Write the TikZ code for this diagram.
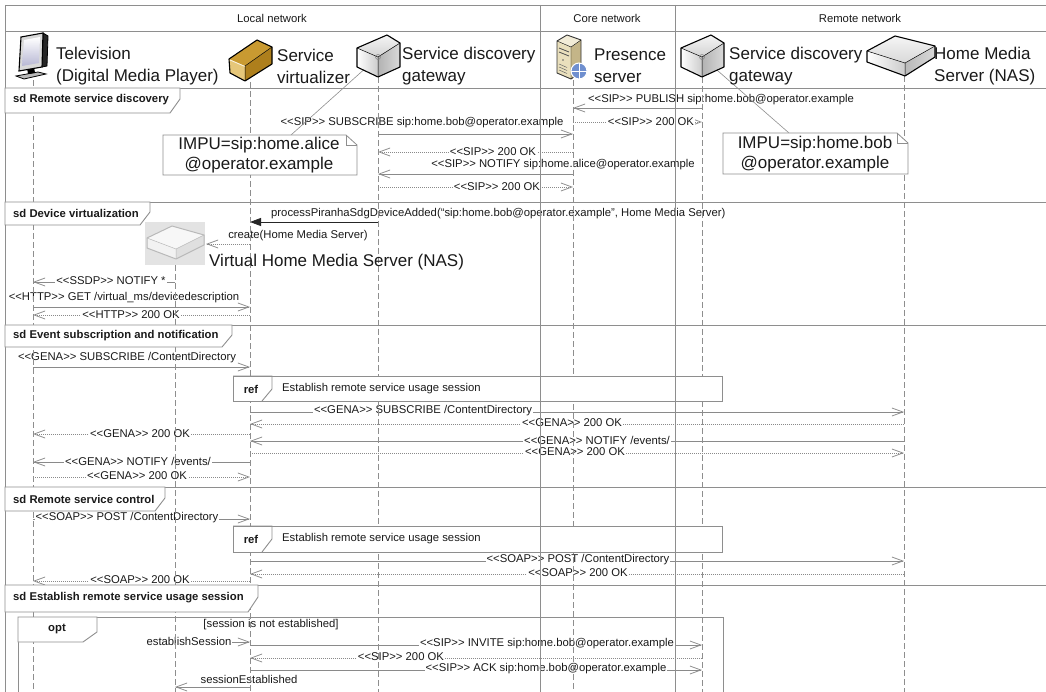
\documentclass[tikz,border=0pt]{standalone}
\usepackage{fontspec}
\setmainfont{Liberation Sans}[Ligatures=TeXOff]
\usetikzlibrary{arrows.meta}
\definecolor{gridc}{HTML}{8E8E8E}
\definecolor{msgc}{HTML}{8A8A8A}
\definecolor{ink}{HTML}{1A1A1A}
\definecolor{goldtop}{HTML}{C99A31}
\definecolor{goldleft}{HTML}{E6C77A}
\definecolor{goldright}{HTML}{AE7F1C}
\definecolor{beige}{HTML}{E9DFBC}
\definecolor{beigedark}{HTML}{C4B588}
\definecolor{globe}{HTML}{6F8FCF}
\newcommand\smallf{\fontsize{11.3}{13}\selectfont}
\newcommand\bigf{\fontsize{17}{22}\selectfont}
\newcommand\notefont{\fontsize{17}{20}\selectfont}

% grey gateway box, front edge at x=378
\newcommand\gatewayicon{%
  \shade[left color=white, right color=gray!40] (357,48) -- (378,57) -- (378,77) -- (357,67) -- cycle;
  \shade[left color=gray!60, right color=gray!30] (378,57) -- (400,43) -- (400,67) -- (378,77) -- cycle;
  \shade[top color=gray!8, bottom color=gray!35] (357,48) -- (387,35) -- (400,43) -- (378,57) -- cycle;
  \draw[outl] (357,48) -- (387,35) -- (400,43) -- (400,67) -- (378,77) -- (357,67) -- cycle;
  \draw[line width=0.5pt] (357,48) -- (378,57) -- (400,43) (378,57) -- (378,77);
  \draw[line width=0.5pt, gray] (378,57) circle (2.5);
}

\begin{document}
\begin{tikzpicture}[x=1pt,y=-1pt,
  gridl/.style={draw=gridc, line width=0.9pt},
  life/.style={draw=gridc, line width=0.8pt, dash pattern=on 6pt off 3pt},
  msg/.style={draw=msgc, line width=0.75pt, -{Straight Barb[length=11pt,width=8pt]}},
  rep/.style={msg, dash pattern=on 1pt off 1pt},
  sync/.style={draw=black!85, line width=0.8pt, -{Triangle[length=11pt,width=8pt]}},
  onl/.style={font=\smallf, text=ink, fill=white, inner xsep=1pt, inner ysep=0.5pt},
  abv/.style={font=\smallf, text=ink, inner sep=0pt},
  bigt/.style={font=\bigf, text=ink, inner sep=0pt, align=left},
  tabst/.style={draw=gridc, fill=white, line width=0.9pt},
  boldt/.style={font=\smallf\bfseries, text=ink, inner sep=0pt},
  outl/.style={draw=black, line width=1.1pt, line join=round},
  notest/.style={draw=gridc, fill=white, line width=0.8pt},
]
\useasboundingbox (0,0) rectangle (1046,692);
\fill[white] (0,0) rectangle (1046,692);

% lifeline positions
\coordinate (tv) at (33,0);
\coordinate (vh) at (175,0);
\coordinate (sv) at (250,0);
\coordinate (sdg) at (378,0);
\coordinate (ps) at (573,0);
\coordinate (rsdg) at (702,0);
\coordinate (hms) at (904,0);
\coordinate (vhr) at (206,244);

% ---------- messages ----------
% remote service discovery
\draw[msg] (rsdg |- 0,108) -- (ps |- 0,108);
\draw[rep] (ps |- 0,122) -- (rsdg |- 0,122);
\draw[msg] (sdg |- 0,134) -- (ps |- 0,134);
\draw[rep] (ps |- 0,152) -- (sdg |- 0,152);
\draw[msg] (ps |- 0,174) -- (sdg |- 0,174);
\draw[rep] (sdg |- 0,187) -- (ps |- 0,187);
% device virtualization
\draw[sync] (sdg |- 0,222) -- (sv |- 0,222);
\draw[rep] (sv |- 0,244) -- (vhr);
\draw[msg] (vh |- 0,282) -- (tv |- 0,282);
\draw[msg] (tv |- 0,307) -- (sv |- 0,307);
\draw[rep] (sv |- 0,315) -- (tv |- 0,315);
% event subscription and notification
\draw[msg] (tv |- 0,367) -- (sv |- 0,367);
\draw[msg] (sv |- 0,412) -- (hms |- 0,412);
\draw[rep] (hms |- 0,424) -- (sv |- 0,424);
\draw[rep] (sv |- 0,434) -- (tv |- 0,434);
\draw[msg] (hms |- 0,441) -- (sv |- 0,441);
\draw[rep] (sv |- 0,453) -- (hms |- 0,453);
\draw[msg] (sv |- 0,462) -- (tv |- 0,462);
\draw[rep] (tv |- 0,477) -- (sv |- 0,477);
% remote service control
\draw[msg] (tv |- 0,519) -- (sv |- 0,519);
\draw[msg] (sv |- 0,561) -- (hms |- 0,561);
\draw[rep] (hms |- 0,574) -- (sv |- 0,574);
\draw[rep] (sv |- 0,581) -- (tv |- 0,581);
% establish remote service usage session
\draw[msg] (vh |- 0,642) -- (sv |- 0,642);
\draw[msg] (sv |- 0,645) -- (rsdg |- 0,645);
\draw[rep] (rsdg |- 0,658) -- (sv |- 0,658);
\draw[msg] (sv |- 0,670) -- (rsdg |- 0,670);
\draw[msg] (sv |- 0,687) -- (vh |- 0,687);

% ---------- message labels ----------
\node[abv] (l1) at (721,100) {<<SIP>> PUBLISH sip:home.bob@operator.example};
\node[onl] (l2) at (651,122) {<<SIP>> 200 OK};
\node[abv] (l3) at (422,123) {<<SIP>> SUBSCRIBE sip:home.bob@operator.example};
\node[onl] (l4) at (493,152) {<<SIP>> 200 OK};
\node[abv] (l5) at (563,165) {<<SIP>> NOTIFY sip:home.alice@operator.example};
\node[onl] (l6) at (497,187) {<<SIP>> 200 OK};
\node[abv, anchor=west] (l7) at (271,214) {processPiranhaSdgDeviceAdded(“sip:home.bob@operator.example”, Home Media Server)};
\node[abv] (l8) at (298,236) {create(Home Media Server)};
\node[onl] (l9) at (111,281) {<<SSDP>> NOTIFY *};
\node[abv] (l10) at (124,298) {<<HTTP>> GET /virtual\_ms/devicedescription};
\node[onl] (l11) at (131,315) {<<HTTP>> 200 OK};
\node[abv] (l12) at (127,358) {<<GENA>> SUBSCRIBE /ContentDirectory};
\node[onl] (l13) at (423,411) {<<GENA>> SUBSCRIBE /ContentDirectory};
\node[onl] (l14) at (572,423) {<<GENA>> 200 OK};
\node[onl] (l15) at (140,434) {<<GENA>> 200 OK};
\node[onl] (l16) at (597,440) {<<GENA>> NOTIFY /events/};
\node[onl] (l17) at (575,452) {<<GENA>> 200 OK};
\node[onl] (l18) at (138,461) {<<GENA>> NOTIFY /events/};
\node[onl] (l19) at (137,476) {<<GENA>> 200 OK};
\node[onl] (l20) at (127,518) {<<SOAP>> POST /ContentDirectory};
\node[onl] (l21) at (578,560) {<<SOAP>> POST /ContentDirectory};
\node[onl] (l22) at (578,573) {<<SOAP>> 200 OK};
\node[onl] (l23) at (140,580) {<<SOAP>> 200 OK};
\node[abv] (l24) at (271,625) {[session is not established]};
\node[onl] (l25) at (189,641) {establishSession};
\node[onl] (l26) at (547,644) {<<SIP>> INVITE sip:home.bob@operator.example};
\node[onl] (l27) at (401,657) {<<SIP>> 200 OK};
\node[onl] (l28) at (546,669) {<<SIP>> ACK sip:home.bob@operator.example};
\node[abv] (l29) at (249,679) {sessionEstablished};

% ---------- grid and lifelines ----------
\foreach \yy in {5,31,88,202,325,487,585} \draw[gridl] (5,\yy) -- (1046,\yy);
\draw[gridl] (5,5) -- (5,692);
\draw[life] (tv |- 0,80) -- (tv |- 0,692);
\draw[life] (vh |- 0,265) -- (vh |- 0,692);
\draw[life] (sv |- 0,82) -- (sv |- 0,692);
\draw[life] (sdg |- 0,77) -- (sdg |- 0,692);
\draw[life] (ps |- 0,80) -- (ps |- 0,692);
\draw[life] (rsdg |- 0,77) -- (rsdg |- 0,692);
\draw[life] (hms |- 0,76) -- (hms |- 0,692);

\node[abv] (netl) at (272,18) {Local network};
\node[abv] (netc) at (607,18) {Core network};
\node[abv] (netr) at (860,18) {Remote network};

% ---------- notes ----------
\coordinate (anchA) at (378,57);
\coordinate (anchB) at (702,57);
\coordinate (noteAt) at (291,135);
\coordinate (noteBt) at (789,133);
\draw[draw=gridc, line width=0.6pt] (anchA) -- (noteAt);
\draw[draw=gridc, line width=0.6pt] (anchB) -- (noteBt);
\filldraw[notest] (163,135) -- (346,135) -- (357,145) -- (357,175) -- (163,175) -- cycle;
\draw[notest, fill=none] (346,135) -- (346,145) -- (357,145);
\node[font=\notefont, text=ink, align=center, inner sep=0pt] (noteA) at (259,155) {IMPU=sip:home.alice\\@operator.example};
\filldraw[notest] (723,133) -- (897,133) -- (908,143) -- (908,174) -- (723,174) -- cycle;
\draw[notest, fill=none] (897,133) -- (897,143) -- (908,143);
\node[font=\notefont, text=ink, align=center, inner sep=0pt] (noteB) at (815,154) {IMPU=sip:home.bob\\@operator.example};

% ---------- frame tabs ----------
\filldraw[tabst] (5,88) -- (180,88) -- (180,99) -- (170,113) -- (5,113) -- cycle;
\node[boldt, anchor=west] (sd1) at (13,100) {sd Remote service discovery};
\filldraw[tabst] (5,202) -- (150,202) -- (150,212) -- (140,225) -- (5,225) -- cycle;
\node[boldt, anchor=west] (sd2) at (13,213) {sd Device virtualization};
\filldraw[tabst] (5,325) -- (232,325) -- (232,335) -- (222,347) -- (5,347) -- cycle;
\node[boldt, anchor=west] (sd3) at (13,336) {sd Event subscription and notification};
\filldraw[tabst] (5,487) -- (165,487) -- (165,498) -- (155,511) -- (5,511) -- cycle;
\node[boldt, anchor=west] (sd4) at (13,499) {sd Remote service control};
\filldraw[tabst] (5,585) -- (258,585) -- (258,597) -- (248,612) -- (5,612) -- cycle;
\node[boldt, anchor=west] (sd5) at (13,598) {sd Establish remote service usage session};

% ---------- interaction uses ----------
\filldraw[tabst] (233,376) rectangle (722,401);
\draw[tabst, fill=none] (233,376) -- (272,376) -- (272,389) -- (262,401);
\node[boldt] (ref1) at (251,389) {ref};
\node[abv, anchor=west] (ref1t) at (282,389) {Establish remote service usage session};
\filldraw[tabst] (233,526) rectangle (722,552);
\draw[tabst, fill=none] (233,526) -- (272,526) -- (272,539) -- (262,552);
\node[boldt] (ref2) at (251,539) {ref};
\node[abv, anchor=west] (ref2t) at (282,539) {Establish remote service usage session};

% ---------- opt fragment ----------
\draw[gridl] (18,700) -- (18,617) -- (723,617) -- (723,700);
\filldraw[tabst] (18,617) -- (97,617) -- (97,632) -- (83,642) -- (18,642) -- cycle;
\node[boldt] (opt) at (57,629) {opt};

% network separators
\draw[gridl] (540,5) -- (540,692);
\draw[gridl] (675,5) -- (675,692);

% ---------- virtual home media server ----------
\fill[gray!22] (145,222) rectangle (205,265);
\fill[gray!10] (147,238) -- (176,249) -- (176,259) -- (147,248) -- cycle;
\fill[gray!25] (176,249) -- (204,235) -- (204,245) -- (176,259) -- cycle;
\fill[gray!6] (147,238) -- (172,226) -- (204,235) -- (176,249) -- cycle;
\draw[gray!55, line width=1pt, line join=round] (147,238) -- (172,226) -- (204,235) -- (204,245) -- (176,259) -- (147,248) -- cycle;
\draw[gray!55, line width=0.5pt] (147,238) -- (176,249) -- (204,235) (176,249) -- (176,259);
\node[font=\bigf, text=ink, inner sep=0pt, anchor=west] (vht) at (209,262) {Virtual Home Media Server (NAS)};

% ---------- participants ----------
% television
\filldraw[fill=gray!55, draw=black, line width=0.8pt] (16,76) -- (38,72) -- (46,74) -- (24,79) -- cycle;
\fill[black] (27,68) -- (34,67) -- (35,73) -- (28,74) -- cycle;
\filldraw[fill=black!85, draw=black, line width=0.8pt] (43,33) -- (48,36) -- (47,66) -- (42,67) -- cycle;
\filldraw[fill=gray!30, draw=black, line width=1.1pt] (21,37) -- (43,33) -- (42,67) -- (19,71) -- cycle;
\shade[top color=white, bottom color=blue!25!gray!45] (24,40) -- (40,37) -- (39,63) -- (22,66) -- cycle;
\node[bigt, anchor=west] (tvt) at (56,66) {Television\\(Digital Media Player)};

% service virtualizer
\fill[goldleft] (229,59) -- (245,66) -- (245,81) -- (230,73) -- cycle;
\fill[goldright] (245,66) -- (272,47) -- (272,64) -- (245,81) -- cycle;
\fill[goldtop] (229,59) -- (257,40) -- (272,47) -- (245,66) -- cycle;
\draw[outl] (229,59) -- (257,40) -- (272,47) -- (272,64) -- (245,81) -- (230,73) -- cycle;
\draw[line width=0.8pt, draw=white!80!goldleft] (230,60) -- (245,66.5);
\draw[line width=0.5pt] (245,66) -- (272,47) (245,66) -- (245,81);
\node[bigt, anchor=west] (svt) at (277,66) {Service\\virtualizer};

% service discovery gateways
\gatewayicon
\node[bigt, anchor=west] (sdgt) at (402,66) {Service discovery\\gateway};
\begin{scope}[shift={(324,0)}]
\gatewayicon
\end{scope}
\node[bigt, anchor=west] (rsdgt) at (729,66) {Service discovery\\gateway};

% presence server
\fill[beige] (557,41) -- (571,47) -- (571,79) -- (557,73) -- cycle;
\fill[beigedark] (571,47) -- (581,40) -- (581,72) -- (571,79) -- cycle;
\fill[beige!60] (557,41) -- (567,35) -- (581,40) -- (571,47) -- cycle;
\draw[draw=black!80, line width=0.9pt, line join=round] (557,41) -- (567,35) -- (581,40) -- (581,72) -- (571,79) -- (557,73) -- cycle;
\draw[line width=0.4pt] (557,41) -- (571,47) -- (581,40) (571,47) -- (571,79);
\draw[line width=0.8pt, black!70] (559,48) -- (569,52) (559,52) -- (569,56);
\fill[black!60] (563,60) circle (0.9);
\draw[line width=0.5pt, black!60] (559,64) -- (567,67.5) (559,67) -- (567,70.5) (559,70) -- (567,73.5);
\filldraw[fill=globe, draw=white, line width=1pt] (579,71) circle (8);
\draw[white, line width=0.5pt] (579,63) -- (579,79) (571,71) -- (587,71);
\node[bigt, anchor=west] (pst) at (594,66) {Presence\\server};

% home media server
\shade[left color=white, right color=gray!40] (867,51) -- (905,63) -- (905,76) -- (867,62) -- cycle;
\shade[left color=gray!55, right color=gray!30] (905,63) -- (935,46) -- (935,57) -- (905,76) -- cycle;
\shade[top color=gray!8, bottom color=gray!30] (867,51) -- (895,36) -- (935,46) -- (905,63) -- cycle;
\draw[outl] (867,51) -- (895,36) -- (935,46) -- (935,57) -- (905,76) -- (867,62) -- cycle;
\draw[line width=0.5pt] (867,51) -- (905,63) -- (935,46) (905,63) -- (905,76);
\node[bigt, anchor=west] (hmst) at (934,66) {Home Media\\Server (NAS)};
\end{tikzpicture}
\end{document}
